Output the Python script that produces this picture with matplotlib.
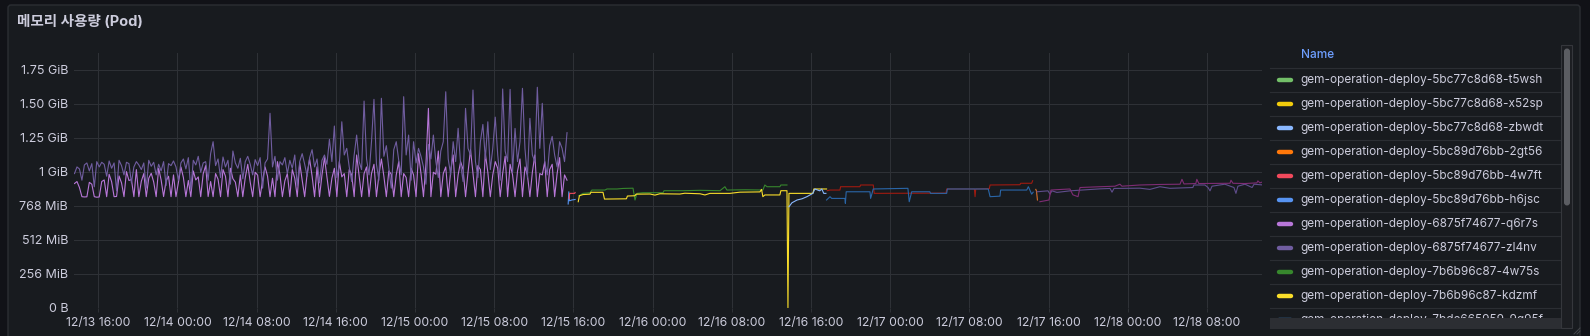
import matplotlib
matplotlib.use('Agg')
import matplotlib.pyplot as plt
import matplotlib.dates as mdates
import pandas as pd
from matplotlib.patches import FancyBboxPatch, Rectangle

plt.rcParams['font.family'] = ['Inter', 'Noto Sans CJK KR', 'DejaVu Sans']

title = '메모리 사용량 (Pod)'

# y축 (MiB 단위)
y_ticks = [0, 256, 512, 768, 1024, 1280, 1536, 1792]
y_labels = ['0 B', '256 MiB', '512 MiB', '768 MiB', '1 GiB', '1.25 GiB', '1.50 GiB', '1.75 GiB']

# 6875f74677 파드: 12/13 13:36 부터 15분 간격
old_start = '2024-12-13 13:36'
q6r7s_vals = [935, 950, 905, 836, 834, 835, 944, 930, 836, 832,
              834, 950, 962, 836, 1005, 948, 836, 838, 992, 940,
              836, 1025, 958, 965, 836, 1040, 836, 952, 1010, 836,
              975, 1012, 946, 836, 1050, 962, 837, 955, 990, 836,
              1000, 836, 945, 1060, 980, 836, 958, 836, 1030, 962,
              985, 836, 1008, 1070, 837, 950, 836, 1010, 968, 836,
              1040, 990, 836, 1050, 972, 945, 836, 1000, 836, 980,
              1080, 945, 836, 1020, 998, 836, 960, 1060, 990, 836,
              975, 836, 1100, 1005, 836, 955, 1010, 836, 1040, 975,
              836, 1090, 960, 836, 1010, 1120, 990, 836, 1060, 836,
              1000, 1130, 985, 838, 975, 1050, 836, 1100, 985, 1010,
              836, 1040, 1000, 836, 1150, 990, 836, 1010, 1060, 836,
              1010, 1080, 836, 1000, 1120, 990, 836, 1030, 1005, 836,
              1000, 1100, 836, 1010, 980, 836, 1050, 1000, 836, 1160,
              1010, 836, 1080, 1501, 836, 1020, 1005, 1180, 836, 1010,
              1060, 836, 1030, 1150, 836, 1000, 1100, 1040, 836, 1020,
              1190, 1010, 836, 1070, 1040, 836, 1160, 1020, 836, 1000,
              1100, 1050, 836, 1010, 1140, 836, 1080, 1000, 836, 1030,
              1120, 836, 1060, 1000, 836, 1020, 1150, 836, 1010, 1000,
              1100, 836, 1040, 1080, 836, 1010, 1130, 836, 1000, 960]
zl4nv_vals = [1010, 1060, 1045, 960, 1075, 1090, 1030, 1085, 910, 1100,
              1060, 1095, 1080, 990, 1105, 1050, 1090, 880, 1110, 1070,
              1000, 1095, 1085, 940, 1060, 1100, 1075, 1040, 1090, 900,
              1110, 1065, 1095, 1000, 1080, 1030, 1100, 920, 1085, 1070,
              1105, 1060, 960, 1090, 1120, 1045, 1130, 890, 1110, 1075,
              1140, 1020, 1090, 1100, 960, 1160, 1250, 1070, 1120, 980,
              1135, 1060, 1110, 930, 1180, 1090, 1050, 1125, 970, 1100,
              1140, 1080, 1000, 1115, 1070, 1130, 900, 1090, 1120, 1464,
              1060, 1140, 960, 1100, 1075, 1130, 1010, 1110, 1050, 1150,
              920, 1100, 1160, 1080, 990, 1130, 1190, 1060, 1120, 940,
              1110, 1150, 1080, 1268, 1100, 1368, 980, 1080, 1400, 1150,
              1200, 1060, 950, 1150, 1300, 1100, 1040, 1556, 1120, 1000,
              1250, 1569, 1080, 960, 1577, 1140, 1220, 1050, 900, 1190,
              1250, 1110, 1000, 1589, 1150, 1300, 960, 1250, 1090, 1200,
              1140, 1060, 930, 1230, 1120, 1300, 1100, 980, 1180, 1250,
              1626, 1120, 1000, 1250, 1100, 1351, 1080, 950, 1501, 1200,
              1150, 1639, 1100, 980, 1250, 1380, 1120, 1400, 1040, 1200,
              1435, 1150, 960, 1647, 1180, 1100, 1644, 1020, 1350, 1100,
              1250, 1652, 1200, 980, 1426, 1150, 1100, 1660, 1200, 1539,
              1100, 1000, 1220, 1290, 1150, 1060, 1250, 1200, 1100, 1318]

# 이후 파드: 시각 / MiB
h6jsc_t = ['12-15 15:28', '12-15 15:32', '12-15 15:36', '12-15 15:50', '12-15 16:10']
h6jsc_v = [781, 873, 805, 811, 815]
w7ft_t = ['12-15 15:34', '12-15 15:37', '12-15 16:08', '12-15 16:10']
w7ft_v = [820, 861, 861, 868]

kdzmf_t = ['12-15 16:29', '12-15 16:36', '12-15 16:58', '12-15 17:40', '12-15 17:46', '12-15 18:59',
           '12-15 19:08', '12-15 21:21', '12-15 21:27', '12-15 22:13', '12-15 22:19', '12-15 23:44',
           '12-16 00:14', '12-16 00:44', '12-16 02:45', '12-16 03:15', '12-16 04:47', '12-16 05:17',
           '12-16 05:47', '12-16 07:48', '12-16 08:49', '12-16 10:50', '12-16 11:00', '12-16 11:08',
           '12-16 11:20', '12-16 12:51', '12-16 12:57', '12-16 13:34', '12-16 13:40', '12-16 13:46',
           '12-16 16:11', '12-16 16:17', '12-16 17:34']
kdzmf_v = [798, 843, 852, 855, 869, 869,
           818, 820, 841, 843, 855, 856,
           848, 858, 856, 862, 858, 849,
           861, 861, 870, 872, 891, 836,
           849, 849, 881, 881, 0, 861,
           861, 894, 894]
w75s_t = ['12-15 16:33', '12-15 16:58', '12-15 17:40', '12-15 17:52', '12-15 19:11', '12-15 19:23',
          '12-15 20:24', '12-15 21:00', '12-15 22:01', '12-15 22:13', '12-15 22:25', '12-15 23:01',
          '12-16 01:03', '12-16 01:09', '12-16 03:04', '12-16 04:47', '12-16 06:48', '12-16 07:18',
          '12-16 07:30', '12-16 09:19', '12-16 11:08', '12-16 11:20', '12-16 11:33', '12-16 12:51',
          '12-16 12:57', '12-16 13:34']
w75s_v = [843, 861, 866, 886, 886, 894,
          894, 898, 900, 811, 861, 866,
          866, 881, 881, 884, 881, 911,
          886, 888, 886, 924, 911, 911,
          924, 924]
zbwdt_t = ['12-16 13:46', '12-16 14:04', '12-16 14:35', '12-16 15:05', '12-16 15:35', '12-16 16:11',
           '12-16 16:23', '12-16 16:53', '12-16 17:05', '12-16 17:17', '12-16 17:30']
zbwdt_v = [760, 790, 811, 820, 836, 861, 894, 880, 894, 861, 861]

red_t = ['12-16 17:38', '12-16 17:55', '12-16 18:55', '12-16 18:59', '12-16 20:56', '12-16 21:00',
         '12-16 22:17', '12-16 22:23', '12-17 05:38', '12-17 05:42', '12-17 08:30', '12-17 08:34',
         '12-17 08:38', '12-17 10:00', '12-17 10:05', '12-17 13:06', '12-17 13:10', '12-17 14:17',
         '12-17 14:23']
red_v = [881, 886, 886, 911, 911, 924,
         924, 861, 863, 894, 894, 836,
         894, 896, 924, 926, 937, 937,
         956]
blue_t = ['12-16 17:34', '12-16 17:55', '12-16 18:05', '12-16 19:25', '12-16 19:28', '12-16 19:33',
          '12-16 21:57', '12-16 22:01', '12-16 22:17', '12-17 01:47', '12-17 01:55', '12-17 02:10',
          '12-17 04:00', '12-17 04:04', '12-17 05:42', '12-17 05:46', '12-17 09:54', '12-17 10:05',
          '12-17 11:05', '12-17 11:09', '12-17 13:47', '12-17 13:57', '12-17 14:17', '12-17 14:26']
blue_v = [811, 836, 823, 823, 786, 873,
          873, 823, 894, 899, 798, 873,
          873, 861, 861, 894, 894, 836,
          840, 886, 886, 911, 855, 870]
orange_t = ['12-17 14:42', '12-17 14:46', '12-17 14:52']
orange_v = [891, 880, 811]
magenta_t = ['12-17 15:07', '12-17 16:02', '12-17 16:14', '12-17 17:08', '12-17 18:09', '12-17 18:27',
             '12-17 18:58', '12-17 19:10', '12-17 21:11', '12-17 22:42', '12-17 23:12', '12-17 23:24',
             '12-18 01:13', '12-18 03:14', '12-18 05:16', '12-18 05:28', '12-18 05:40', '12-18 06:52',
             '12-18 06:58', '12-18 07:10', '12-18 10:19', '12-18 10:25', '12-18 10:37', '12-18 11:50',
             '12-18 13:02', '12-18 13:08', '12-18 13:20', '12-18 13:32']
magenta_v = [798, 811, 886, 890, 894, 850,
             836, 905, 911, 915, 930, 915,
             924, 928, 930, 967, 932, 935,
             967, 935, 937, 960, 937, 935,
             940, 955, 940, 945]
purple_t = ['12-17 14:49', '12-17 15:56', '12-17 16:08', '12-17 16:20', '12-17 16:50', '12-17 18:09',
            '12-17 19:10', '12-17 21:11', '12-17 22:12', '12-17 22:24', '12-17 22:36', '12-18 01:13',
            '12-18 02:14', '12-18 03:14', '12-18 04:15', '12-18 06:34', '12-18 06:40', '12-18 07:47',
            '12-18 08:06', '12-18 08:18', '12-18 08:30', '12-18 09:48', '12-18 10:43', '12-18 10:55',
            '12-18 11:07', '12-18 11:50', '12-18 12:33', '12-18 12:45', '12-18 13:32']
purple_v = [873, 880, 855, 880, 868, 880,
            885, 895, 898, 870, 898, 900,
            891, 911, 899, 905, 924, 924,
            905, 880, 915, 930, 905, 861,
            915, 930, 905, 930, 925]

legend_names = ['gem-operation-deploy-5bc77c8d68-t5wsh', 'gem-operation-deploy-5bc77c8d68-x52sp',
                'gem-operation-deploy-5bc77c8d68-zbwdt', 'gem-operation-deploy-5bc89d76bb-2gt56',
                'gem-operation-deploy-5bc89d76bb-4w7ft', 'gem-operation-deploy-5bc89d76bb-h6jsc',
                'gem-operation-deploy-6875f74677-q6r7s', 'gem-operation-deploy-6875f74677-zl4nv',
                'gem-operation-deploy-7b6b96c87-4w75s', 'gem-operation-deploy-7b6b96c87-kdzmf',
                'gem-operation-deploy-7bdc665959-9g95f']
legend_colors = ['#73BF69', '#F2CC0C', '#8AB8FF', '#FF780A', '#F2495C', '#5794F2',
                 '#B877D9', '#705DA0', '#37872D', '#FADE2A', '#447EBC']


def tt(lst):
    return pd.to_datetime(['2024-' + s for s in lst])


fig = plt.figure(figsize=(15.9, 3.36), dpi=100, facecolor='#111217')

# 패널 배경 / 범례는 픽셀 좌표로
bg = fig.add_axes([0, 0, 1, 1], zorder=0)
bg.set_xlim(0, 1590)
bg.set_ylim(336, 0)
bg.axis('off')
bg.add_patch(FancyBboxPatch((8, 5), 1572, 345, boxstyle='round,pad=0,rounding_size=3',
                            fc='#181b1f', ec='#2b2e33', lw=1))
bg.text(17, 21.5, title, fontsize=10.5, color='#ccccdc', fontweight='bold', va='center', ha='left')

# 범례 테이블
leg_fs = 8.5
bg.text(1300.5, 55, 'Name', fontsize=leg_fs, color='#6e9fff', va='center', ha='left', fontweight='medium')
for k in range(11):
    bg.plot([1270, 1561], [68.3 + 24 * k] * 2, color='#2b2e33', lw=0.8)
for i, (nm, c) in enumerate(zip(legend_names, legend_colors)):
    yy = 80 + 24 * i
    bg.plot([1279, 1291], [yy, yy], color=c, lw=3.2, solid_capstyle='round')
    bg.text(1300.5, yy, nm, fontsize=leg_fs, color='#ccccdc', va='center', ha='left')
bg.add_patch(Rectangle((1270, 318.3), 302, 10.3, fc='#2c2e33', ec='none', zorder=5))
bg.add_patch(Rectangle((1561, 45), 11, 283, fc='#1c1e22', ec='#35373c', lw=0.8, zorder=5))
bg.add_patch(FancyBboxPatch((1564, 48.5), 6, 157, boxstyle='round,pad=0,rounding_size=3',
                            fc='#5b5d62', ec='none', zorder=6))
bg.plot([1574, 1580], [334, 328], color='#44464b', lw=0.7)
bg.plot([1577, 1580], [334, 331], color='#44464b', lw=0.7)

# 그래프 영역
ax = fig.add_axes([74 / 1590, (336 - 307.7) / 336, 1188 / 1590, (307.7 - 53) / 336], zorder=1)
ax.set_facecolor('none')

old_t = pd.date_range(old_start, periods=len(q6r7s_vals), freq='15min')
lw = 0.8
ax.plot(old_t, q6r7s_vals, color='#B877D9', lw=lw)
ax.plot(old_t, zl4nv_vals, color='#705DA0', lw=lw)
ax.plot(tt(h6jsc_t), h6jsc_v, color='#5794F2', lw=lw)
ax.plot(tt(w7ft_t), w7ft_v, color='#F2495C', lw=lw)
ax.plot(tt(w75s_t), w75s_v, color='#37872D', lw=lw)
ax.plot(tt(kdzmf_t), kdzmf_v, color='#FADE2A', lw=lw)
ax.plot(tt(zbwdt_t), zbwdt_v, color='#8AB8FF', lw=lw)
ax.plot(tt(red_t), red_v, color='#A01A10', lw=lw)
ax.plot(tt(blue_t), blue_v, color='#2A66A8', lw=lw)
ax.plot(tt(orange_t), orange_v, color='#D9702A', lw=lw)
ax.plot(tt(purple_t), purple_v, color='#5F4D8C', lw=lw)
ax.plot(tt(magenta_t), magenta_v, color='#7E2C74', lw=lw)

ax.set_xlim(pd.Timestamp('2024-12-13 13:33'), pd.Timestamp('2024-12-18 13:33'))
ax.set_ylim(0, 1918)
ax.set_yticks(y_ticks)
ax.set_yticklabels(y_labels)
ax.xaxis.set_major_locator(mdates.HourLocator(byhour=[0, 8, 16]))
ax.xaxis.set_major_formatter(mdates.DateFormatter('%m/%d %H:%M'))

for s in ax.spines.values():
    s.set_visible(False)
ax.grid(True, color='#2e3136', lw=0.75)
ax.set_axisbelow(True)
ax.tick_params(axis='y', length=0, pad=4.2, labelsize=9, labelcolor='#ccccdc')
ax.tick_params(axis='x', length=3, width=0.75, color='#2e3136', pad=4, labelsize=8.8, labelcolor='#ccccdc')

fig.savefig('out.png', dpi=100, facecolor=fig.get_facecolor())
